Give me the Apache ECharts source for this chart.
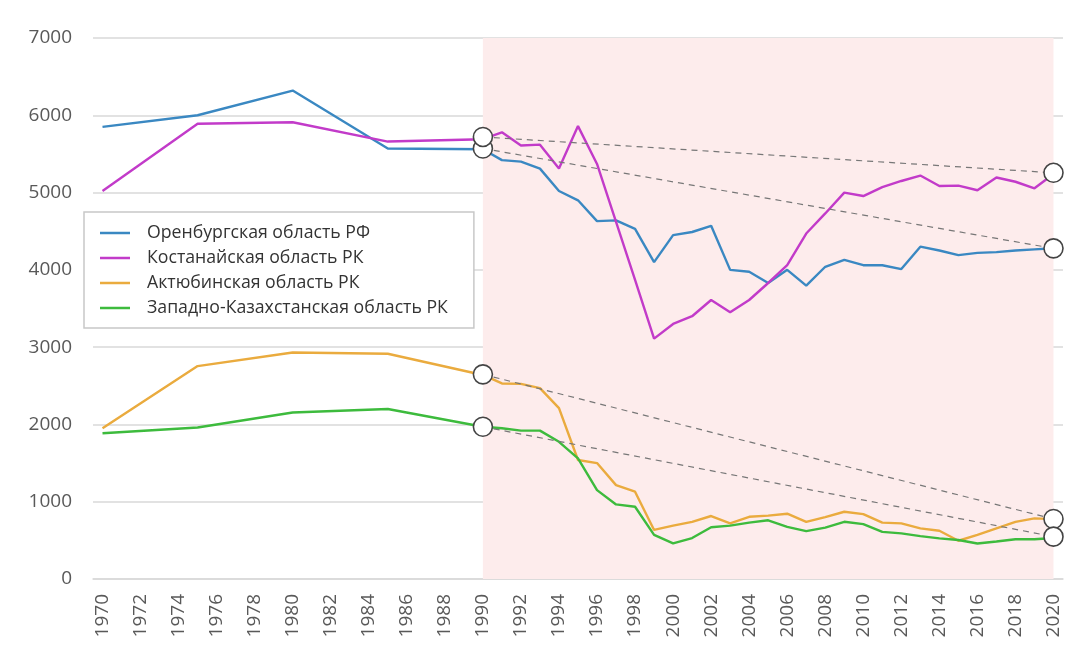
<!DOCTYPE html>
<html>
<head>
<meta charset="utf-8">
<script src="https://cdn.jsdelivr.net/npm/echarts@6/dist/echarts.min.js"></script>
<style>
  html, body { margin: 0; padding: 0; background: #fff; }
  #chart { width: 1077px; height: 652px; }
</style>
</head>
<body>
<div id="chart"></div>
<script>
// годы по оси X
var years = [];
for (var y = 1970; y <= 2020; y++) years.push(String(y));

// 1970-1990 только по пятилеткам, дальше по годам
var orenburg = [
  5850, null, null, null, null, 6000, null, null, null, null,
  6320, null, null, null, null, 5570, null, null, null, null,
  5560, 5420, 5400, 5310, 5020, 4900, 4630, 4640, 4530, 4100,
  4450, 4490, 4570, 4000, 3975, 3830, 4000, 3795, 4040, 4130,
  4060, 4060, 4010, 4300, 4250, 4190, 4220, 4230, 4250, 4265, 4280
];
var kostanay = [
  5020, null, null, null, null, 5890, null, null, null, null,
  5910, null, null, null, null, 5660, null, null, null, null,
  5690, 5780, 5610, 5620, 5310, 5860, 5370, 4620, 3870, 3110,
  3300, 3400, 3610, 3450, 3610, 3830, 4060, 4470, 4730, 5000,
  4955, 5070, 5150, 5220, 5085, 5090, 5030, 5195, 5140, 5055, 5240
];
var aktobe = [
  1950, null, null, null, null, 2755, null, null, null, null,
  2930, null, null, null, null, 2915, null, null, null, null,
  2640, 2530, 2525, 2470, 2210, 1540, 1500, 1215, 1130, 635,
  690, 740, 815, 720, 805, 820, 845, 740, 800, 870,
  840, 730, 720, 655, 625, 495, 570, 655, 740, 785, 775
];
var westKz = [
  1885, null, null, null, null, 1960, null, null, null, null,
  2155, null, null, null, null, 2200, null, null, null, null,
  1970, 1950, 1920, 1920, 1775, 1560, 1150, 965, 935, 570,
  460, 530, 670, 690, 730, 760, 675, 620, 665, 740,
  710, 610, 590, 555, 525, 505, 460, 485, 515, 515, 530
];

// точки тренда (1990 и 2020)
var trendStart = [5570, 5720, 2648, 1970];
var trendEnd = [4278, 5256, 776, 548];

var names = ['Оренбургская область РФ', 'Костанайская область РК', 'Актюбинская область РК', 'Западно-Казахстанская область РК'];
var colors = ['#3a88c2', '#c23bc9', '#eaab3e', '#3dbb3d'];
var values = [orenburg, kostanay, aktobe, westKz];

var chart = echarts.init(document.getElementById('chart'));

var series = [];
for (var i = 0; i < values.length; i++) {
  series.push({
    name: names[i],
    type: 'line',
    data: values[i],
    connectNulls: true,
    symbol: 'none',
    z: 3,
    lineStyle: { color: colors[i], width: 2.4 },
    itemStyle: { color: colors[i] },
    markArea: i == 0 ? {
      silent: true,
      itemStyle: { color: '#fdecec' },
      data: [[{ xAxis: '1990' }, { xAxis: '2020' }]]
    } : undefined
  });
}
for (var i = 0; i < trendStart.length; i++) {
  var t = [];
  for (var k = 0; k < years.length; k++) t.push(null);
  t[years.indexOf('1990')] = trendStart[i];
  t[years.indexOf('2020')] = trendEnd[i];
  series.push({
    name: 'trend' + i,
    type: 'line',
    data: t,
    connectNulls: true,
    symbol: 'circle',
    symbolSize: 19,
    showAllSymbol: true,
    z: 4,
    lineStyle: { color: '#777', width: 1.2, type: [6, 5] },
    itemStyle: { color: '#fff', borderColor: '#444', borderWidth: 1.6 }
  });
}

var option = {
  backgroundColor: '#fff',
  animation: false,
  grid: { left: 93, right: 14, top: 38, bottom: 73 },
  legend: {
    data: names,
    orient: 'vertical',
    left: 84,
    top: 212,
    padding: [12, 26, 11, 16],
    icon: 'rect',
    itemWidth: 30,
    itemHeight: 2.5,
    itemGap: 7,
    backgroundColor: '#fff',
    borderColor: '#c8c8c8',
    borderWidth: 1.5,
    textStyle: { fontFamily: 'Open Sans', fontSize: 17.7, lineHeight: 18, color: '#333', padding: [0, 0, 0, 12] }
  },
  xAxis: {
    type: 'category',
    data: years,
    boundaryGap: true,
    axisTick: { show: false },
    axisLine: { lineStyle: { color: '#d9d9d9', width: 1.5 } },
    axisLabel: { interval: 1, rotate: 90, fontFamily: 'Open Sans', fontSize: 19, color: '#595959', margin: 15 }
  },
  yAxis: {
    type: 'value',
    min: 0,
    max: 7000,
    interval: 1000,
    axisLine: { show: false },
    axisTick: { show: false },
    splitLine: { lineStyle: { color: '#d9d9d9', width: 1.5 } },
    axisLabel: {
      fontFamily: 'Open Sans', fontSize: 19, color: '#595959', margin: 21,
      formatter: function (v) { return String(v); }
    }
  },
  series: series
};

chart.setOption(option);
</script>
</body>
</html>
